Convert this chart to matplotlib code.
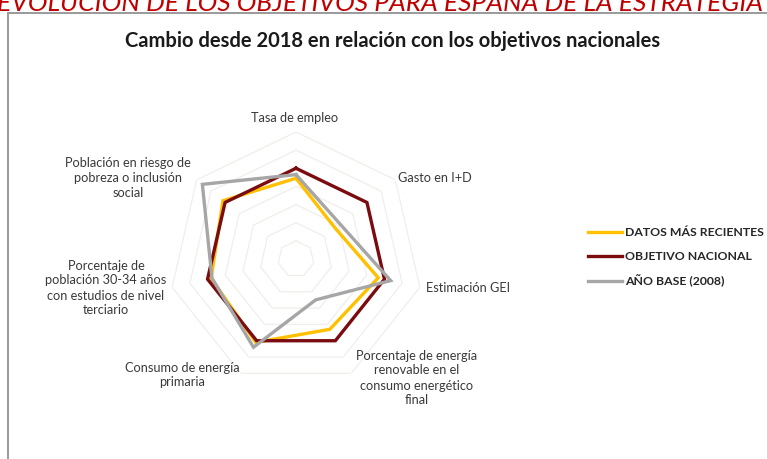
import numpy as np
import matplotlib
matplotlib.use("Agg")
import matplotlib.pyplot as plt
from matplotlib.patches import Rectangle
from matplotlib.lines import Line2D

plt.rcParams['font.family'] = ['Lato', 'DejaVu Sans']

# Indicators, clockwise from the top
categories = [
    "Tasa de empleo",
    "Gasto en I+D",
    "Estimación GEI",
    "Porcentaje de energía\nrenovable en el\nconsumo energético\nfinal",
    "Consumo de energía\nprimaria",
    "Porcentaje de\npoblación 30-34 años\ncon estudios de nivel\nterciario",
    "Población en riesgo de\npobreza o inclusión\nsocial",
]

# Values relative to each national target (target = 1)
datos_recientes = [0.89, 0.55, 0.93, 0.86, 1.02, 0.96, 1.03]
objetivo_nacional = [1.00, 1.00, 1.00, 1.00, 1.00, 1.00, 1.00]
ano_base_2008 = [0.93, 0.62, 1.07, 0.50, 1.08, 0.95, 1.32]

series_names = ["DATOS MÁS RECIENTES", "OBJETIVO NACIONAL", "AÑO BASE (2008)"]
series_colors = ["#FFC000", "#7A0C10", "#A6A6A6"]

W, H = 767, 459
fig = plt.figure(figsize=(W / 100, H / 100), dpi=100)

def fx(px):
    return px / W

def fy(py):
    return 1 - py / H

# Outer chart frame
fig.patches.append(Rectangle((fx(8), fy(H + 5)), fx(W + 10) - fx(8), fy(13) - fy(H + 5),
                             transform=fig.transFigure, fill=False,
                             edgecolor="#9A9A9A", linewidth=1.4))

# Page heading (runs past the right edge of the page)
fig.text(fx(-3), fy(11), "EVOLUCIÓN DE LOS OBJETIVOS PARA ESPAÑA DE LA ESTRATEGIA",
         color="#C00000", fontsize=19, style="italic", ha="left", va="baseline")

fig.text(fx(393), fy(41), "Cambio desde 2018 en relación con los objetivos nacionales",
         fontsize=14.5, fontweight="bold", color="#1A1A1A", ha="center", va="center")

# Radar axes
cx, cy, rpx = 296, 259, 127
rmax = 1.4
ax = fig.add_axes([fx(cx - rpx), fy(cy + rpx), 2 * rpx / W, 2 * rpx / H], projection="polar")
ax.set_theta_offset(np.pi / 2)
ax.set_theta_direction(-1)
ax.set_ylim(0, rmax)
ax.set_xticks([])
ax.set_yticks([])
ax.spines["polar"].set_visible(False)
ax.grid(False)
ax.patch.set_alpha(0)

n = len(categories)
angles = np.linspace(0, 2 * np.pi, n, endpoint=False)
closed = np.concatenate([angles, angles[:1]])

# Faint heptagonal grid
for lvl in np.arange(0.2, rmax + 0.01, 0.2):
    ax.plot(closed, [lvl] * (n + 1), color="#F1EEEA", lw=0.9, zorder=1)

for vals, color in zip([datos_recientes, objetivo_nacional, ano_base_2008], series_colors):
    v = list(vals) + [vals[0]]
    ax.plot(closed, v, color=color, lw=2.4, zorder=3, solid_joinstyle="miter")

# Category labels
label_pos = [
    (295, 118), (435, 178), (468, 288), (417, 378),
    (182, 375), (106, 288), (128, 178),
]
for text, (px, py) in zip(categories, label_pos):
    fig.text(fx(px), fy(py), text, fontsize=9.2, color="#3A3A3A",
             ha="center", va="center", linespacing=1.3)

# Legend
leg_y = [232, 256, 281]
for name, color, py in zip(series_names, series_colors, leg_y):
    fig.add_artist(Line2D([fx(588), fx(622)], [fy(py), fy(py)], color=color, lw=2.4,
                          transform=fig.transFigure))
    fig.text(fx(625), fy(py), name, fontsize=8.8, fontweight="bold", color="#262626",
             ha="left", va="center")

fig.savefig("out.png", dpi=100, facecolor="white")
